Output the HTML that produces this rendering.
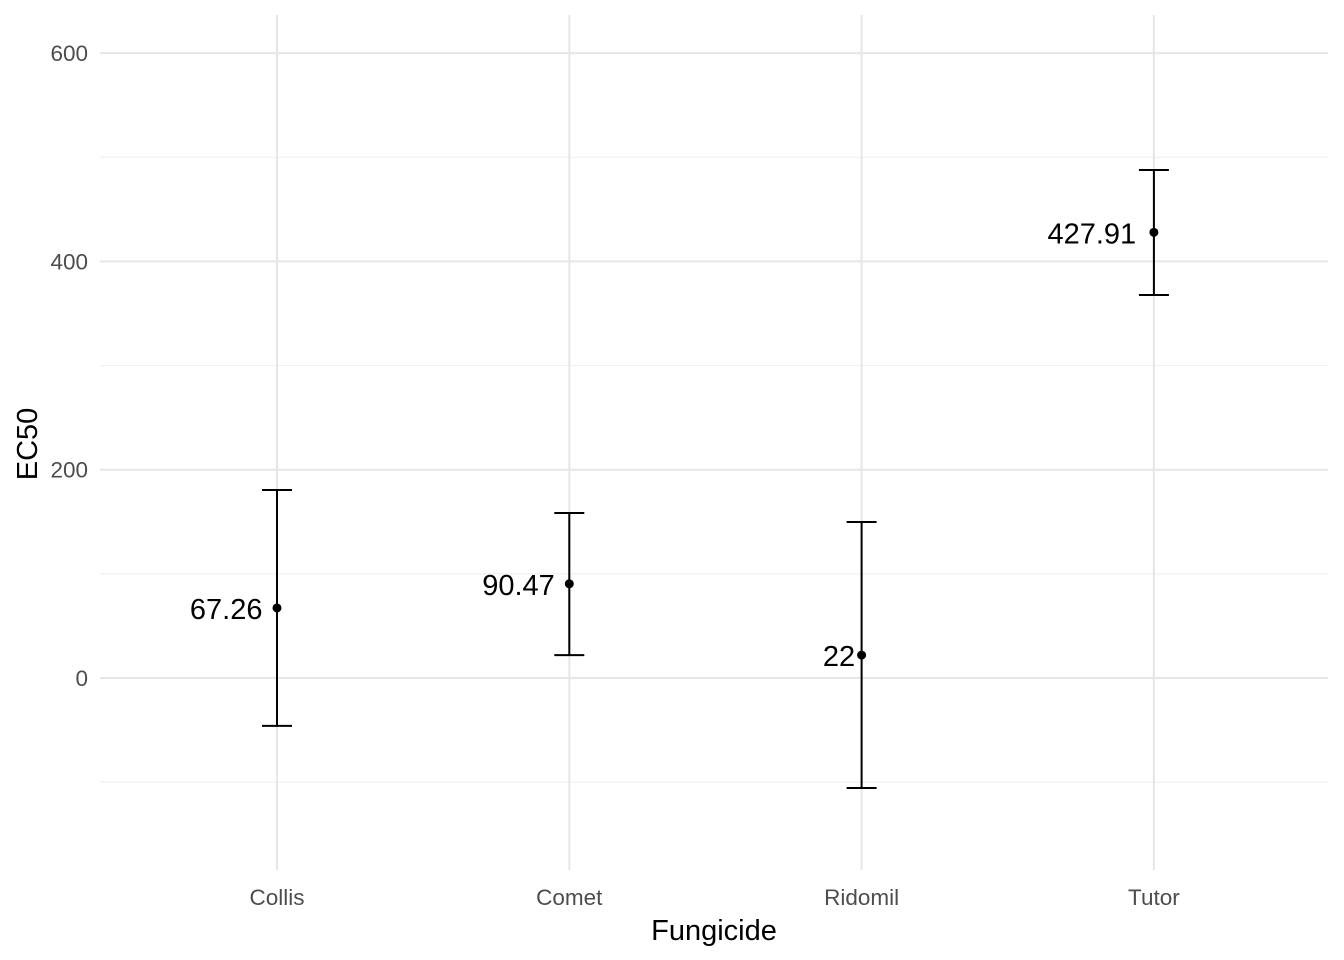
<!DOCTYPE html>
<html><head><meta charset="utf-8"><style>
body{margin:0;background:#fff;}
svg{display:block;font-family:"Liberation Sans",Arial,sans-serif;}
</style></head><body>
<svg id="chart" width="1344" height="960" viewBox="0 0 1344 960">
<g id="grid"></g><g id="marks"></g><g id="axes"></g>
<text x="714" y="940" font-size="29" text-anchor="middle" fill="#000">Fungicide</text>
<text transform="translate(37,444) rotate(-90)" font-size="29" text-anchor="middle" fill="#000">EC50</text>
</svg>
<script>
const categories=["Collis","Comet","Ridomil","Tutor"];
const values=[67.26,90.47,22,427.91];
const labels=["67.26","90.47","22","427.91"];
const upper=[180.5,158.4,149.8,487.7];
const lower=[-46,22,-105.6,367.7];
const majorTicks=[0,200,400,600];
const minorTicks=[-100,100,300,500];

const ns="http://www.w3.org/2000/svg";
const px0=100,px1=1328,py0=15,py1=870;
function y(v){return 678-(v)*208.3/200;}
function x(i){return 277+i*292.3;}
function mk(tag,attrs,parent){const e=document.createElementNS(ns,tag);for(const k in attrs)e.setAttribute(k,attrs[k]);parent.appendChild(e);return e;}
const grid=document.getElementById('grid'),marks=document.getElementById('marks'),axes=document.getElementById('axes');
minorTicks.forEach(t=>{const l=mk('line',{x1:px0,x2:px1,y1:y(t),y2:y(t),stroke:'#f0f0f0','stroke-width':1.2},grid);

});
majorTicks.forEach(t=>{const l=mk('line',{x1:px0,x2:px1,y1:y(t),y2:y(t),stroke:'#e6e6e6','stroke-width':2},grid);


const tx=mk('text',{x:88,y:y(t)+8,'font-size':22.5,'text-anchor':'end',fill:'#4d4d4d'},axes);tx.textContent=t;

});
categories.forEach((c,i)=>{const l=mk('line',{x1:x(i),x2:x(i),y1:py0,y2:py1,stroke:'#e6e6e6','stroke-width':2},grid);


const tx=mk('text',{x:x(i),y:905,'font-size':22.5,'text-anchor':'middle',fill:'#4d4d4d'},axes);tx.textContent=c;


const g=mk('g',{},marks);


mk('line',{x1:x(i),x2:x(i),y1:y(upper[i]),y2:y(lower[i]),stroke:'#000','stroke-width':2},g);
mk('line',{x1:x(i)-15,x2:x(i)+15,y1:y(upper[i]),y2:y(upper[i]),stroke:'#000','stroke-width':2},g);
mk('line',{x1:x(i)-15,x2:x(i)+15,y1:y(lower[i]),y2:y(lower[i]),stroke:'#000','stroke-width':2},g);
const p=mk('circle',{cx:x(i),cy:y(values[i]),r:4.5,fill:'#000'},marks);


const lb=mk('text',{x:x(i),y:y(values[i])+11,'font-size':29,'text-anchor':'end',fill:'#000'},marks);lb.textContent=labels[i];


const w=lb.getComputedTextLength();
lb.setAttribute('x',x(i)-0.2*w);
});
</script>
</body></html>
